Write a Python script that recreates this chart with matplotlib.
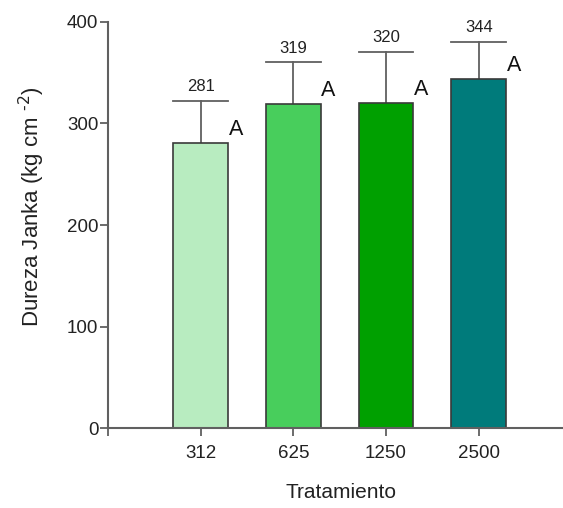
import numpy as np
import matplotlib
matplotlib.use("Agg")
import matplotlib.pyplot as plt

plt.rcParams['font.family'] = ['Liberation Sans', 'DejaVu Sans']

# data
tratamientos = ['312', '625', '1250', '2500']
medias = [281, 319, 320, 344]
errores = [41.5, 41, 50.7, 36]
letras = ['A', 'A', 'A', 'A']
colores = ['#b8ecc0', '#48ce5c', '#00a000', '#007b7b']

axis_col = '#606060'

fig = plt.figure(figsize=(5.63, 5.08), dpi=100)
ax = fig.add_axes([0.192, 0.157, 0.808, 0.800])

x = np.arange(len(tratamientos))
w = 0.59
ax.bar(x, medias, width=w, color=colores, edgecolor='#3a3a3a', linewidth=1.2, zorder=2)

# upward-only error bars, cap as wide as the bar
for xi, m, e in zip(x, medias, errores):
    ax.plot([xi, xi], [m, m + e], color=axis_col, lw=1.3, zorder=1)
    ax.plot([xi - w / 2, xi + w / 2], [m + e, m + e], color=axis_col, lw=1.3, zorder=1)

# mean labels above caps and letters at bar corner
for xi, m, e, l in zip(x, medias, errores, letras):
    ax.annotate(str(m), (xi, m + e), xytext=(0, 5), textcoords='offset points',
                ha='center', va='bottom', fontsize=12, color='#222222')
    ax.annotate(l, (xi + w / 2, m), xytext=(0.5, 2), textcoords='offset points',
                ha='left', va='bottom', fontsize=15.5, color='#111111')

ax.set_xlim(-1.0, 3.91)
ax.set_ylim(0, 400)
ax.set_yticks([0, 100, 200, 300, 400])
ax.set_xticks(x)
ax.set_xticklabels(tratamientos)
ax.set_xticks([-1.0], minor=True)

for s in ['top', 'right']:
    ax.spines[s].set_visible(False)
for s in ['left', 'bottom']:
    ax.spines[s].set_color(axis_col)
    ax.spines[s].set_linewidth(1.5)

ax.tick_params(axis='both', which='both', color=axis_col, width=1.3, length=6,
               labelsize=13.5, labelcolor='#222222')
ax.tick_params(axis='x', pad=6)
ax.tick_params(axis='y', pad=1)

ax.set_ylabel(r'Dureza Janka (kg cm $^{\text{-2}}$)', fontsize=16, color='#222222')
ax.yaxis.set_label_coords(-0.135, 0.545)
ax.set_xlabel('Tratamiento', fontsize=15, color='#222222', labelpad=18)
ax.xaxis.set_label_coords(0.513, -0.135)

fig.savefig('out.png', dpi=100)
